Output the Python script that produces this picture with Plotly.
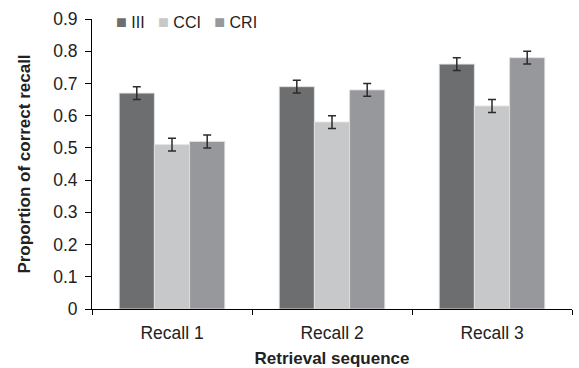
import plotly.graph_objects as go

categories = ["Recall 1", "Recall 2", "Recall 3"]
series_names = ["III", "CCI", "CRI"]
iii_values = [0.67, 0.69, 0.76]
cci_values = [0.51, 0.58, 0.63]
cri_values = [0.52, 0.68, 0.78]
iii_err = [0.02, 0.02, 0.02]
cci_err = [0.02, 0.02, 0.02]
cri_err = [0.02, 0.02, 0.02]
y_tick_vals = [0, 0.1, 0.2, 0.3, 0.4, 0.5, 0.6, 0.7, 0.8, 0.9]
y_tick_text = ["0", "0.1", "0.2", "0.3", "0.4", "0.5", "0.6", "0.7", "0.8", "0.9"]

colors = ["#6d6e70", "#c7c8ca", "#97989b"]
values = [iii_values, cci_values, cri_values]
errors = [iii_err, cci_err, cri_err]

fig = go.Figure()
for name, vals, errs, col in zip(series_names, values, errors, colors):
    fig.add_trace(go.Bar(
        x=categories, y=vals, name=name, showlegend=False,
        marker=dict(color=col, line=dict(color="rgba(225,225,225,0.9)", width=1)),
        error_y=dict(type="data", array=errs, visible=True, color="#2b2b2b",
                     thickness=1.5, width=4),
    ))

# compact legend row (square swatch + label per series)
legend_parts = []
for name, col in zip(series_names, colors):
    legend_parts.append(
        f"<span style='color:{col};font-size:18px'>\u25A0</span>\u00a0{name}"
    )
legend_text = "\u00a0\u00a0\u00a0".join(legend_parts)

font_family = "Liberation Sans, Arial, sans-serif"
fig.update_layout(
    width=579, height=368,
    margin=dict(l=92, r=7, t=19, b=59, autoexpand=False),
    plot_bgcolor="white", paper_bgcolor="white",
    barmode="group", bargap=0.34, bargroupgap=0,
    font=dict(family=font_family, size=17, color="#222"),
    annotations=[dict(
        text=legend_text, xref="paper", yref="paper", x=0.046, y=0.988,
        xanchor="left", yanchor="middle", showarrow=False,
        font=dict(size=16, color="#222"),
    )],
    xaxis=dict(
        showline=True, linecolor="black", linewidth=1,
        ticks="outside", ticklen=5, tickcolor="black", tickson="boundaries",
        tickfont=dict(size=17.5, color="#222"), automargin=False,
        ticklabelstandoff=8,
        title=dict(text="<b>Retrieval sequence</b>", font=dict(size=17, color="#222"), standoff=12),
    ),
    yaxis=dict(
        range=[0, 0.9], tickvals=y_tick_vals, ticktext=y_tick_text,
        showline=True, linecolor="black", linewidth=1, showgrid=False, zeroline=False,
        ticks="outside", ticklen=6, tickcolor="black", automargin=False,
        ticklabelstandoff=4,
        tickfont=dict(size=17.5, color="#222"),
        title=dict(text="<b>Proportion of correct recall</b>", font=dict(size=17, color="#222"), standoff=18),
    ),
)

fig.write_html(
    "out.html",
    config={"displayModeBar": False},
    post_script="document.body.style.margin='0';document.body.style.overflow='hidden';",
)
